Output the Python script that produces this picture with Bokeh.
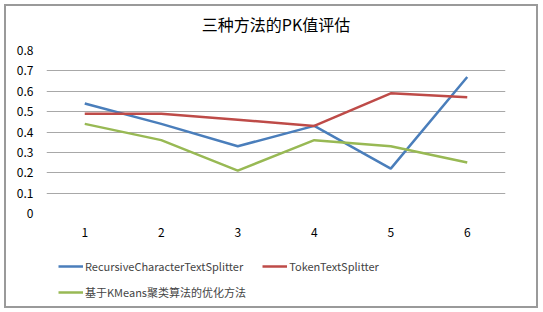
from bokeh.plotting import figure
from bokeh.models import Legend, LegendItem, FixedTicker, Label, Column
from bokeh.embed import file_html
from bokeh.resources import INLINE

x_vals = [1, 2, 3, 4, 5, 6]
recursive = [0.54, 0.44, 0.33, 0.43, 0.22, 0.67]
token = [0.49, 0.49, 0.46, 0.43, 0.59, 0.57]
kmeans = [0.44, 0.36, 0.21, 0.36, 0.33, 0.25]
series_names = ["RecursiveCharacterTextSplitter", "TokenTextSplitter", "基于KMeans聚类算法的优化方法"]
y_ticks = [0, 0.1, 0.2, 0.3, 0.4, 0.5, 0.6, 0.7, 0.8]
title_text = "三种方法的PK值评估"

FONT = "Noto Sans CJK SC"
colors = ["#4A7EBB", "#BE4B48", "#98B954"]


def blank(fig):
    fig.outline_line_color = None
    fig.grid.visible = False
    fig.background_fill_color = "white"
    fig.border_fill_color = "white"


# title strip
tf = figure(width=530, height=34, output_backend="svg", toolbar_location=None,
            x_range=(0, 1), y_range=(0, 1), x_axis_location=None, y_axis_location=None,
            min_border_left=0, min_border_right=0, min_border_top=0, min_border_bottom=0)
blank(tf)
tf.add_layout(Label(x=0.5, y=17, y_units="screen", text=title_text, text_align="center",
                    text_baseline="middle", text_font=FONT, text_font_size="16px",
                    text_color="#000000"))

# main chart
p = figure(width=530, height=211, output_backend="svg", toolbar_location=None,
           x_range=(0.5, 6.5), y_range=(0, 0.8),
           min_border_left=40, min_border_right=31, min_border_top=10, min_border_bottom=38)
p.outline_line_color = None
p.background_fill_color = "white"
p.border_fill_color = "white"

p.line(x_vals, recursive, line_color=colors[0], line_width=2.5)
p.line(x_vals, token, line_color=colors[1], line_width=2.5)
p.line(x_vals, kmeans, line_color=colors[2], line_width=2.5)

p.xgrid.visible = False
p.ygrid.grid_line_color = "#a8a8a8"
p.ygrid.grid_line_width = 1
p.yaxis.ticker = FixedTicker(ticks=y_ticks)
p.yaxis.major_label_overrides = {0: "0"}
p.xaxis.ticker = FixedTicker(ticks=x_vals)
for ax in (p.xaxis, p.yaxis):
    ax.axis_line_color = None
    ax.major_tick_line_color = None
    ax.minor_tick_line_color = None
    ax.major_label_text_font = FONT
    ax.major_label_text_font_size = "12px"
    ax.major_label_text_color = "#000000"
p.yaxis.major_label_standoff = 7
p.xaxis.major_label_standoff = 8

# legend strip below the chart (its lines lie outside its visible range)
lg = figure(width=530, height=55, output_backend="svg", toolbar_location=None,
            x_range=(-20, -19), y_range=(0, 1), x_axis_location=None, y_axis_location=None,
            min_border_left=0, min_border_right=0, min_border_top=0, min_border_bottom=0)
blank(lg)
k1 = lg.line(x_vals, recursive, line_color=colors[0], line_width=2.5)
k2 = lg.line(x_vals, token, line_color=colors[1], line_width=2.5)
k3 = lg.line(x_vals, kmeans, line_color=colors[2], line_width=2.5)

common = dict(border_line_color=None, background_fill_alpha=0, padding=0, margin=0,
              label_text_font=FONT, label_text_font_size="11px", label_standoff=2,
              glyph_width=25, glyph_height=16, label_height=16, spacing=19,
              orientation="horizontal")
leg1 = Legend(items=[LegendItem(label=series_names[0], renderers=[k1]),
                     LegendItem(label=series_names[1], renderers=[k2])],
              location=(12, 32), **common)
leg2 = Legend(items=[LegendItem(label=series_names[2], renderers=[k3])],
              location=(12, 6), **common)
lg.add_layout(leg1, "center")
lg.add_layout(leg2, "center")

root = Column(children=[tf, p, lg], spacing=0,
              styles={"margin-left": "4px", "margin-top": "4px",
                      "border": "2px solid #9a9a9a", "box-sizing": "content-box"})

open("out.html", "w").write(file_html(root, INLINE))
